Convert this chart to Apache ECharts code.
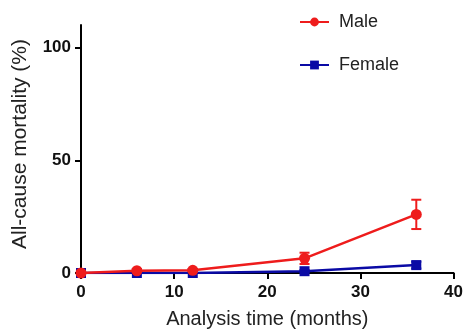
<!DOCTYPE html>
<html>
<head>
<meta charset="utf-8">
<script src="https://cdn.jsdelivr.net/npm/echarts@6/dist/echarts.min.js"></script>
<style>
  html, body { margin: 0; padding: 0; background: #fff; }
  #chart { width: 466px; height: 334px; }
</style>
</head>
<body>
<div id="chart"></div>
<script>
// months since analysis start
const months = [0, 6, 12, 24, 36]
const maleMortality = [0, 1, 1.2, 6.5, 26]
const maleError = [0, 0.5, 0.6, 2.5, 6.5]
const femaleMortality = [0, 0, 0, 0.8, 3.5]
const femaleError = [0, 0, 0, 0.5, 1.5]

const RED = '#ee1c1c'
const BLUE = '#0a0aa5'
const FONT = 'Liberation Sans, Arial, sans-serif'

const toPairs = (vals) => months.map((m, i) => [m, vals[i]])
const errRows = (vals, errs) =>
  months.map((m, i) => [m, vals[i] - errs[i], vals[i] + errs[i]]).filter((r, i) => errs[i] > 0)

const errorBarRender = (color) => (params, api) => {
  const x = api.value(0)
  const lo = api.coord([x, api.value(1)])
  const hi = api.coord([x, api.value(2)])
  const w = 5
  const style = { stroke: color, lineWidth: 2 }
  return {
    type: 'group',
    children: [
      { type: 'line', shape: { x1: lo[0], y1: lo[1], x2: hi[0], y2: hi[1] }, style },
      { type: 'line', shape: { x1: lo[0] - w, y1: lo[1], x2: lo[0] + w, y2: lo[1] }, style },
      { type: 'line', shape: { x1: hi[0] - w, y1: hi[1], x2: hi[0] + w, y2: hi[1] }, style },
    ],
  }
}

const chart = echarts.init(document.getElementById('chart'))
chart.setOption({
  animation: false,
  textStyle: { fontFamily: FONT },
  legend: {
    orient: 'vertical',
    left: 294,
    top: 8,
    itemGap: 25,
    itemWidth: 29,
    itemHeight: 11,
    textStyle: { fontSize: 18, color: '#222', fontFamily: FONT, padding: [0, 0, 0, 5] },
    data: ['Male', 'Female'],
  },
  grid: { left: 81, right: 11, top: 25, bottom: 61 },
  xAxis: {
    type: 'value',
    min: 0,
    max: 40,
    interval: 10,
    name: 'Analysis time (months)',
    nameLocation: 'middle',
    nameGap: 36,
    nameTextStyle: { fontSize: 20, color: '#222' },
    splitLine: { show: false },
    axisLine: { lineStyle: { color: '#000', width: 2 } },
    axisTick: { length: 6, lineStyle: { color: '#000', width: 2 } },
    axisLabel: { margin: 11, fontSize: 17, fontWeight: 'bold', color: '#111' },
  },
  yAxis: {
    type: 'value',
    min: 0,
    max: 110,
    name: 'All-cause mortality (%)',
    nameLocation: 'middle',
    nameGap: 50,
    nameTextStyle: { fontSize: 21, color: '#222', padding: [0, 0, 0, 10] },
    splitLine: { show: false },
    axisLine: { lineStyle: { color: '#000', width: 2 } },
    axisTick: { length: 6, customValues: [0, 50, 100], lineStyle: { color: '#000', width: 2 } },
    axisLabel: { margin: 10, fontSize: 17, fontWeight: 'bold', color: '#111', customValues: [0, 50, 100] },
  },
  series: [
    {
      name: 'Female',
      type: 'line',
      data: toPairs(femaleMortality),
      symbol: 'rect',
      symbolSize: 10,
      color: BLUE,
      lineStyle: { color: BLUE, width: 2.5 },
      itemStyle: { color: BLUE },
      z: 3,
    },
    {
      name: 'Female',
      type: 'custom',
      renderItem: errorBarRender(BLUE),
      data: errRows(femaleMortality, femaleError),
      encode: { x: 0, y: [1, 2] },
      z: 3,
    },
    {
      name: 'Male',
      type: 'line',
      data: toPairs(maleMortality),
      symbol: 'circle',
      symbolSize: 11,
      color: RED,
      lineStyle: { color: RED, width: 2.5 },
      itemStyle: { color: RED },
      z: 4,
    },
    {
      name: 'Male',
      type: 'custom',
      renderItem: errorBarRender(RED),
      data: errRows(maleMortality, maleError),
      encode: { x: 0, y: [1, 2] },
      z: 4,
    },
  ],
})
</script>
</body>
</html>
